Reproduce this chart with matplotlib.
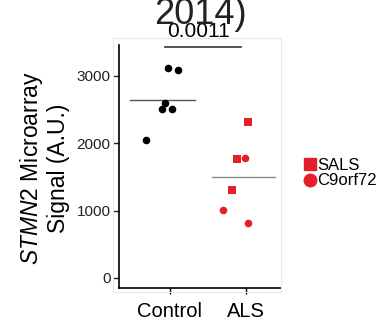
import matplotlib
matplotlib.use("Agg")
import matplotlib.pyplot as plt
from matplotlib.lines import Line2D
from matplotlib.patches import Rectangle
import numpy as np

plt.rcParams['font.family'] = ['Liberation Sans', 'DejaVu Sans']
plt.rcParams['mathtext.fontset'] = 'custom'
plt.rcParams['mathtext.it'] = 'Liberation Sans:italic'
plt.rcParams['mathtext.rm'] = 'Liberation Sans'

# data
groups = ['Control', 'ALS']
ctrl_x = [0.97, 1.11, 0.93, 0.89, 1.03, 0.68]
ctrl_y = [3120, 3090, 2600, 2510, 2510, 2045]
sals_x = [2.03, 1.88, 1.82]
sals_y = [2310, 1760, 1300]
c9_x = [1.99, 1.70, 2.03]
c9_y = [1780, 1015, 810]
p_value = "0.0011"
red = '#e3202a'

fig = plt.figure(figsize=(3.8, 3.21), dpi=100)
ax = fig.add_axes([119/380, 1 - 288/321, (281 - 119)/380, (288 - 45)/321])

# faint frame around the panel
fig.patches.append(Rectangle((113/380, 1 - 292/321), (281 - 113)/380, (292 - 38)/321,
                             transform=fig.transFigure, fill=False,
                             edgecolor='#e8e8e8', linewidth=0.8, zorder=0))

ax.scatter(ctrl_x, ctrl_y, s=30, color='black', marker='o', linewidths=0, zorder=3)
ax.scatter(sals_x, sals_y, s=36, color=red, marker='s', linewidths=0, zorder=3)
ax.scatter(c9_x, c9_y, s=30, color=red, marker='o', linewidths=0, zorder=3)

# group means
als_all = sals_y + c9_y
ax.plot([0.47, 1.33], [np.mean(ctrl_y)] * 2, color='#555555', lw=1.0, zorder=2)
ax.plot([1.55, 2.38], [np.mean(als_all)] * 2, color='#8a8a8a', lw=1.0, zorder=2)

# significance bar
ax.plot([0.93, 1.93], [3435, 3435], color='#333333', lw=1.2, clip_on=False)
ax.text(1.37, 3575, p_value, ha='center', va='baseline', fontsize=15, clip_on=False)

ax.set_xlim(0.33, 2.46)
ax.set_ylim(-150, 3460)
ax.set_xticks([1, 2])
ax.set_xticklabels(groups, fontsize=14.5)
ax.set_yticks([0, 1000, 2000, 3000])
ax.tick_params(axis='y', labelsize=11, length=4, width=1, pad=2, colors='#222222')
ax.tick_params(axis='x', length=4, width=1, pad=6)
for s in ['top', 'right']:
    ax.spines[s].set_visible(False)
for s in ['left', 'bottom']:
    ax.spines[s].set_linewidth(1.2)
ax.set_facecolor('none')

fig.text(44/380, 1 - 168/321, "$\\mathit{STMN2}$ Microarray\nSignal (A.U.)",
         rotation=90, ha='center', va='center', fontsize=16.5,
         multialignment='center', linespacing=1.1)

fig.text(200/380, 1 - 24/321, "2014)", ha='center', va='baseline',
         fontsize=26, color='#222222')

handles = [Line2D([], [], marker='s', color=red, ls='none', markersize=8),
           Line2D([], [], marker='o', color=red, ls='none', markersize=9)]
fig.legend(handles, ['SALS', 'C9orf72'], loc='center left',
           bbox_to_anchor=(304/380, 1 - 173/321), frameon=False,
           fontsize=12, handlelength=0.7, handletextpad=0.1,
           labelspacing=0.05, borderpad=0, borderaxespad=0)

fig.savefig("out.png", dpi=100)
